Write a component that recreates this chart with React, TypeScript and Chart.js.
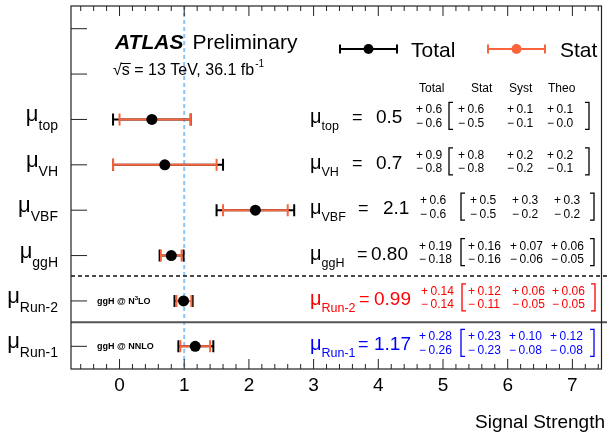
import React, { useEffect, useRef } from "react";
import { Chart, registerables } from "chart.js";

Chart.register(...registerables);

// ---------------- data ----------------
const categories = ["top", "VH", "VBF", "ggH", "Run-2", "Run-1"];
const rowPositions = [5.5, 4.5, 3.5, 2.5, 1.5, 0.5];
const centralValues = [0.5, 0.7, 2.1, 0.8, 0.99, 1.17];
const centralLabels = ["0.5", "0.7", "2.1", "0.80", "0.99", "1.17"];
const totalUp = [0.6, 0.9, 0.6, 0.19, 0.14, 0.28];
const totalDown = [0.6, 0.8, 0.6, 0.18, 0.14, 0.26];
const statUp = [0.6, 0.8, 0.5, 0.16, 0.12, 0.23];
const statDown = [0.5, 0.8, 0.5, 0.16, 0.11, 0.23];
const systUp = [0.1, 0.2, 0.3, 0.07, 0.06, 0.1];
const systDown = [0.1, 0.2, 0.2, 0.06, 0.05, 0.08];
const theoUp = [0.1, 0.2, 0.3, 0.06, 0.06, 0.12];
const theoDown = [0.0, 0.1, 0.2, 0.05, 0.05, 0.08];
const decimals = [1, 1, 1, 2, 2, 2];
const rowNotes = ["", "", "", "", "N3LO", "NNLO"];
const columnHeaders = ["Total", "Stat", "Syst", "Theo"];
const xTickValues = [0, 1, 2, 3, 4, 5, 6, 7];
const smRefValue = 1;
const dashedSeparator = 2.05;
const solidSeparator = 1.03;
const legendLabels = ["Total", "Stat"];

// ---------------- styles / layout ----------------
const FONT = "'Liberation Sans', Arial, Helvetica, sans-serif";
const font = (size: number, weight = "normal", style = "normal") =>
  `${style} ${weight} ${size}px ${FONT}`;
const ORANGE = "#fa643c";
const rowColors = ["#000", "#000", "#000", "#000", "#ff0000", "#0000ff"];
// per-row x layout of the right-hand table
const eqX = [352, 352, 358, 357, 359, 358];
const valX = [376, 376, 383, 371, 374, 374];
const colX = [
  [416, 458, 507, 547],
  [416, 458, 507, 547],
  [420, 470, 512, 554],
  [419, 468, 510, 551],
  [421, 468, 512, 552],
  [419, 468, 509, 550],
];
const openBr = [449, 449, 461, 461, 462, 461];
const closeBr = [589, 589, 594, 594, 595, 594];

function fmt(v: number, d: number) {
  return v.toFixed(d);
}

const atlasPlugin = {
  id: "atlasDecor",
  beforeDatasetsDraw(chart: any) {
    const { ctx, chartArea: ca, scales } = chart;
    const xs = scales.x;
    const ys = scales.y;
    ctx.save();
    // SM reference
    const xr = xs.getPixelForValue(smRefValue);
    ctx.strokeStyle = "#8cc4f4";
    ctx.lineWidth = 2;
    ctx.setLineDash([4, 3]);
    ctx.beginPath();
    ctx.moveTo(xr, ca.top);
    ctx.lineTo(xr, ca.bottom);
    ctx.stroke();
    // separators
    ctx.strokeStyle = "#111";
    ctx.lineWidth = 1.3;
    ctx.setLineDash([4, 3]);
    const yd = ys.getPixelForValue(dashedSeparator);
    ctx.beginPath();
    ctx.moveTo(ca.left, yd);
    ctx.lineTo(chart.width, yd);
    ctx.stroke();
    ctx.setLineDash([]);
    ctx.strokeStyle = "#555";
    ctx.lineWidth = 2;
    const ysol = ys.getPixelForValue(solidSeparator);
    ctx.beginPath();
    ctx.moveTo(ca.left, ysol);
    ctx.lineTo(chart.width, ysol);
    ctx.stroke();

    // error bars
    const bar = (lo: number, hi: number, py: number, color: string) => {
      const a = xs.getPixelForValue(lo);
      const b = xs.getPixelForValue(hi);
      ctx.strokeStyle = color;
      ctx.lineWidth = 2;
      ctx.beginPath();
      ctx.moveTo(a, py);
      ctx.lineTo(b, py);
      ctx.moveTo(a, py - 6);
      ctx.lineTo(a, py + 6);
      ctx.moveTo(b, py - 6);
      ctx.lineTo(b, py + 6);
      ctx.stroke();
    };
    categories.forEach((_, i) => {
      const py = ys.getPixelForValue(rowPositions[i]);
      const c = centralValues[i];
      bar(c - totalDown[i], c + totalUp[i], py, "#000");
      bar(c - statDown[i], c + statUp[i], py, ORANGE);
    });
    ctx.restore();
  },
  afterDraw(chart: any) {
    const { ctx, chartArea: ca, scales } = chart;
    const xs = scales.x;
    const ys = scales.y;
    ctx.save();
    // frame
    ctx.strokeStyle = "#222";
    ctx.lineWidth = 1.2;
    ctx.strokeRect(ca.left, ca.top, ca.right - ca.left, ca.bottom - ca.top);
    // x ticks (top & bottom)
    ctx.lineWidth = 1;
    ctx.beginPath();
    for (let k = Math.ceil(xs.min / 0.2); k <= Math.floor(xs.max / 0.2); k++) {
      const v = k * 0.2;
      const major = Math.abs(v - Math.round(v)) < 1e-6;
      const len = major ? 10 : 5;
      const px = xs.getPixelForValue(v);
      ctx.moveTo(px, ca.bottom);
      ctx.lineTo(px, ca.bottom - len);
      ctx.moveTo(px, ca.top);
      ctx.lineTo(px, ca.top + len);
    }
    for (let v = 0.5; v < ys.max; v += 1) {
      const py = ys.getPixelForValue(v);
      ctx.moveTo(ca.left, py);
      ctx.lineTo(ca.left + 16, py);
    }
    ctx.stroke();

    ctx.fillStyle = "#000";
    ctx.textBaseline = "alphabetic";
    ctx.textAlign = "left";

    // axis title
    ctx.font = font(19);
    ctx.textAlign = "right";
    ctx.fillText("Signal Strength", 605, 428);
    ctx.textAlign = "left";

    // ATLAS label
    ctx.font = font(21, "bold", "italic");
    ctx.fillText("ATLAS", 115, 49);
    const wA = ctx.measureText("ATLAS").width;
    ctx.font = font(21);
    ctx.fillText("Preliminary", 115 + wA + 9, 49);
    ctx.font = font(16);
    const sx = 113;
    ctx.fillText("\u221As", sx, 75);
    const wRad = ctx.measureText("\u221A").width;
    const wS = ctx.measureText("\u221As").width;
    ctx.lineWidth = 1;
    ctx.strokeStyle = "#000";
    ctx.beginPath();
    ctx.moveTo(sx + wRad - 1, 63.5);
    ctx.lineTo(sx + wS + 1, 63.5);
    ctx.stroke();
    const rest = " = 13 TeV, 36.1 fb";
    ctx.fillText(rest, sx + wS, 75);
    const wR = ctx.measureText(rest).width;
    ctx.font = font(10);
    ctx.fillText("-1", sx + wS + wR + 1, 67);

    // legend
    const legItem = (x0: number, x1: number, yy: number, color: string, label: string, tx: number) => {
      ctx.strokeStyle = color;
      ctx.lineWidth = 2;
      ctx.beginPath();
      ctx.moveTo(x0, yy);
      ctx.lineTo(x1, yy);
      ctx.moveTo(x0, yy - 4.5);
      ctx.lineTo(x0, yy + 4.5);
      ctx.moveTo(x1, yy - 4.5);
      ctx.lineTo(x1, yy + 4.5);
      ctx.stroke();
      ctx.fillStyle = color;
      ctx.beginPath();
      ctx.arc((x0 + x1) / 2, yy, 5, 0, Math.PI * 2);
      ctx.fill();
      ctx.fillStyle = "#000";
      ctx.font = font(21);
      ctx.fillText(label, tx, yy + 8);
    };
    legItem(340, 397, 49, "#000", legendLabels[0], 411);
    legItem(488, 545, 49, ORANGE, legendLabels[1], 560);

    // left category labels
    categories.forEach((cat, i) => {
      const py = ys.getPixelForValue(rowPositions[i]);
      ctx.font = font(14);
      const sw = ctx.measureText(cat).width;
      ctx.font = font(22);
      const mw = ctx.measureText("\u03BC").width;
      const xEnd = 58;
      ctx.fillStyle = "#000";
      ctx.fillText("\u03BC", xEnd - sw - mw, py + 2);
      ctx.font = font(14);
      ctx.fillText(cat, xEnd - sw, py + 11);
    });

    // notes inside plot
    rowNotes.forEach((note, i) => {
      if (!note) return;
      const py = ys.getPixelForValue(rowPositions[i]) + 3;
      let x = 97;
      ctx.fillStyle = "#000";
      ctx.font = font(9, "bold");
      const pre = "ggH @ ";
      ctx.fillText(pre, x, py);
      x += ctx.measureText(pre).width;
      if (note === "N3LO") {
        ctx.fillText("N", x, py);
        x += ctx.measureText("N").width;
        ctx.font = font(6, "bold");
        ctx.fillText("3", x, py - 4);
        x += ctx.measureText("3").width;
        ctx.font = font(9, "bold");
        ctx.fillText("LO", x, py);
      } else {
        ctx.fillText(note, x, py);
      }
    });

    // table header
    ctx.font = font(12);
    ctx.fillStyle = "#000";
    const headX = [419, 471, 509, 548];
    columnHeaders.forEach((h, j) => ctx.fillText(h, headX[j], 92));

    // right-hand table rows
    categories.forEach((cat, i) => {
      const py = ys.getPixelForValue(rowPositions[i]);
      const col = rowColors[i];
      ctx.fillStyle = col;
      ctx.strokeStyle = col;
      ctx.font = font(20);
      ctx.fillText("\u03BC", 310, py + 4);
      const mw = ctx.measureText("\u03BC").width;
      ctx.font = font(12.5);
      ctx.fillText(cat, 310 + mw, py + 11);
      ctx.font = font(18);
      ctx.fillText("=", eqX[i], py + 4);
      ctx.font = font(19);
      ctx.fillText(centralLabels[i], valX[i], py + 4);

      const ups = [totalUp[i], statUp[i], systUp[i], theoUp[i]];
      const dns = [totalDown[i], statDown[i], systDown[i], theoDown[i]];
      ctx.font = font(12);
      for (let j = 0; j < 4; j++) {
        const cx = colX[i][j];
        ctx.fillText("+", cx, py - 6);
        ctx.fillText(fmt(ups[j], decimals[i]), cx + 9.5, py - 6);
        ctx.fillText("\u2212", cx, py + 7.5);
        ctx.fillText(fmt(dns[j], decimals[i]), cx + 9.5, py + 7.5);
      }
      // brackets
      ctx.lineWidth = 1.3;
      const t = py - 17;
      const b = py + 10;
      ctx.beginPath();
      ctx.moveTo(openBr[i] + 4, t);
      ctx.lineTo(openBr[i], t);
      ctx.lineTo(openBr[i], b);
      ctx.lineTo(openBr[i] + 4, b);
      ctx.moveTo(closeBr[i] - 4, t);
      ctx.lineTo(closeBr[i], t);
      ctx.lineTo(closeBr[i], b);
      ctx.lineTo(closeBr[i] - 4, b);
      ctx.stroke();
    });
    ctx.restore();
  },
};

export default function App() {
  const ref = useRef<HTMLCanvasElement | null>(null);
  useEffect(() => {
    if (!ref.current) return;
    const chart = new Chart(ref.current, {
      type: "scatter",
      data: {
        datasets: [
          {
            label: "Total",
            data: centralValues.map((v, i) => ({ x: v, y: rowPositions[i] })),
            pointRadius: 5.5,
            pointBackgroundColor: "#000",
            pointBorderWidth: 0,
            showLine: false,
          },
        ],
      },
      options: {
        animation: false,
        responsive: true,
        maintainAspectRatio: false,
        events: [],
        layout: { padding: { top: 6, right: 3, left: 0, bottom: 0 } },
        plugins: {
          legend: { display: false },
          tooltip: { enabled: false },
        },
        scales: {
          x: {
            type: "linear",
            min: -0.75,
            max: 7.45,
            grid: { display: false, drawTicks: false },
            border: { display: false },
            ticks: {
              color: "#000",
              font: { family: FONT, size: 19 },
              padding: 5,
              maxRotation: 0,
            },
            afterBuildTicks: (s: any) => {
              s.ticks = xTickValues.map((v) => ({ value: v }));
            },
            afterFit: (s: any) => {
              s.height = 65;
            },
          },
          y: {
            type: "linear",
            min: 0,
            max: 8,
            grid: { display: false, drawTicks: false },
            border: { display: false },
            ticks: { display: false },
            afterFit: (s: any) => {
              s.width = 71;
            },
          },
        },
      },
      plugins: [atlasPlugin],
    });
    return () => chart.destroy();
  }, []);
  return (
    <div style={{ position: "absolute", left: 0, top: 0, width: 607, height: 434, background: "#fff" }}>
      <canvas ref={ref} />
    </div>
  );
}
